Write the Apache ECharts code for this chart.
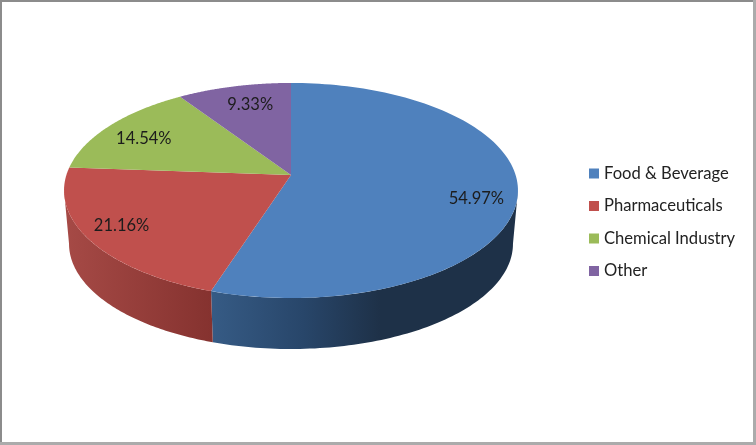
<!DOCTYPE html>
<html>
<head>
<meta charset="utf-8">
<style>html,body{margin:0;padding:0;background:#fff}#c{width:756px;height:445px}</style>
<script src="https://cdn.jsdelivr.net/npm/echarts@6/dist/echarts.min.js"></script>
</head>
<body>
<div id="c"></div>
<script>
const categories = ['Food & Beverage', 'Pharmaceuticals', 'Chemical Industry', 'Other'];
const shares = [54.97, 21.16, 14.54, 9.33];
const topColors = ['#4f81bd', '#c0504d', '#9bbb59', '#8064a2'];

// Presentation only: tilted disc geometry and label nudges
const disc = {cx: 291, cy: 175, a: 224.6, b: 105.3, k: 0.144, shrink: 0.978, depth: 53.7};
const labelNudge = [[0, 10], [-6, -1], [3, 5], [7, 4]];
const sideStops = [
  [[0, '#a64a46'], [1, '#85322f']],
  [[0, '#365b85'], [0.3, '#28466a'], [0.55, '#1e3148'], [1, '#1e3148']]
];

function project(deg, f) {
  const t = deg * Math.PI / 180, u = Math.sin(t) * f, v = -Math.cos(t) * f, w = 1 - disc.k * v;
  return [disc.cx + disc.a * u / w, disc.cy + disc.b * v / w];
}
function lower(p) {
  return [disc.cx + disc.shrink * (p[0] - disc.cx), disc.cy + disc.depth + disc.shrink * (p[1] - disc.cy)];
}
const total = shares.reduce((a, b) => a + b, 0);
const frontFrom = Math.acos(-disc.k) * 180 / Math.PI, frontTo = 360 - frontFrom;

function renderSlice(idx) {
  return function (params, api) {
    let before = 0;
    for (let i = 0; i < idx; i++) before += shares[i];
    const start = before / total * 360, end = (before + api.value(0)) / total * 360;
    const children = [];
    const sFrom = Math.max(start, frontFrom), sTo = Math.min(end, frontTo);
    if (sTo > sFrom) {
      const topEdge = [];
      for (let i = 0; i <= 90; i++) topEdge.push(project(sFrom + (sTo - sFrom) * i / 90, 1));
      const pts = topEdge.concat(topEdge.slice().reverse().map(lower));
      const stops = idx === 0 ? sideStops[1] : sideStops[0];
      children.push({
        type: 'polygon', shape: {points: pts},
        style: {fill: new echarts.graphic.LinearGradient(0, 0, 1, 0,
          stops.map(s => ({offset: s[0], color: s[1]})))}
      });
    }
    const pts = [project(0, 0)];
    for (let i = 0; i <= 120; i++) pts.push(project(start + (end - start) * i / 120, 1));
    children.push({type: 'polygon', shape: {points: pts}, style: {fill: topColors[idx]}});
    const mid = project((start + end) / 2, 0.82);
    children.push({
      type: 'text', z2: 10,
      style: {
        x: mid[0] + labelNudge[idx][0], y: mid[1] + labelNudge[idx][1],
        text: api.value(0).toFixed(2) + '%', align: 'center', verticalAlign: 'middle',
        font: '16.5px Lato', fill: '#1c1c1c'
      }
    });
    return {type: 'group', children};
  };
}

const chart = echarts.init(document.getElementById('c'), null, {renderer: 'canvas'});
chart.setOption({
  animation: false,
  backgroundColor: '#fff',
  legend: {
    orient: 'vertical', left: 584, top: 160, icon: 'rect',
    itemWidth: 10, itemHeight: 10, itemGap: 15.5,
    textStyle: {fontFamily: 'Lato', fontSize: 16.6, color: '#222', padding: [0, 0, 0, 0]},
    data: categories, selectedMode: false
  },
  graphic: [
    {type: 'rect', shape: {x: 0, y: 0, width: 756, height: 2}, style: {fill: '#8c8c8c'}},
    {type: 'rect', shape: {x: 0, y: 0, width: 2, height: 445}, style: {fill: '#8c8c8c'}},
    {type: 'rect', shape: {x: 753, y: 0, width: 3, height: 445}, style: {fill: '#ababab'}},
    {type: 'rect', shape: {x: 0, y: 442, width: 756, height: 3}, style: {fill: '#ababab'}}
  ],
  series: categories.map((name, i) => ({
    type: 'custom', name, coordinateSystem: 'none', silent: true,
    itemStyle: {color: topColors[i]},
    renderItem: renderSlice(i),
    data: [[shares[i]]]
  }))
});
</script>
</body>
</html>
